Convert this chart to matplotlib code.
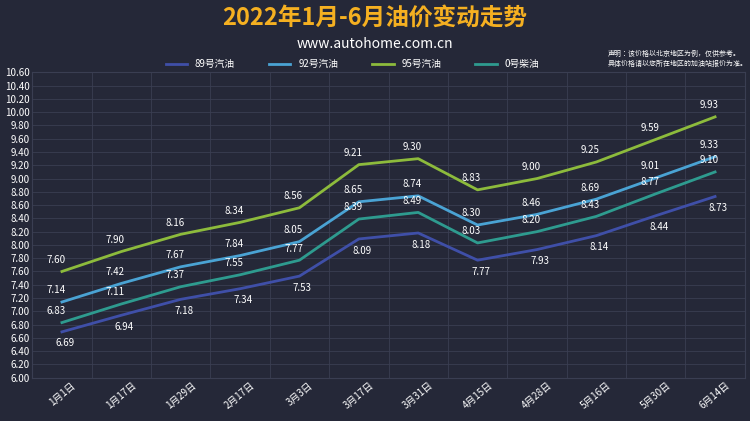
import matplotlib
matplotlib.use("Agg")
import matplotlib.pyplot as plt
from matplotlib import font_manager as fm

fam = "Noto Sans CJK SC"
for f in fm.findSystemFonts():
    if "CJK" in f or "cjk" in f:
        try:
            fm.fontManager.addfont(f)
        except Exception:
            pass
names_avail = {f.name for f in fm.fontManager.ttflist}
cands = [n for n in names_avail if "CJK" in n]
if fam not in names_avail and cands:
    fam = sorted(cands)[0]
plt.rcParams["font.family"] = "sans-serif"
plt.rcParams["font.sans-serif"] = [fam, "DejaVu Sans"]

dates = ["1月1日","1月17日","1月29日","2月17日","3月3日","3月17日","3月31日","4月15日","4月28日","5月16日","5月30日","6月14日"]
p89 = [6.69, 6.94, 7.18, 7.34, 7.53, 8.09, 8.18, 7.77, 7.93, 8.14, 8.44, 8.73]
p92 = [7.14, 7.42, 7.67, 7.84, 8.05, 8.65, 8.74, 8.30, 8.46, 8.69, 9.01, 9.33]
p95 = [7.60, 7.90, 8.16, 8.34, 8.56, 9.21, 9.30, 8.83, 9.00, 9.25, 9.59, 9.93]
p0 = [6.83, 7.11, 7.37, 7.55, 7.77, 8.39, 8.49, 8.03, 8.20, 8.43, 8.77, 9.10]
names = ["89号汽油", "92号汽油", "95号汽油", "0号柴油"]
yticks = [round(6.0 + 0.2 * i, 2) for i in range(24)]

bg = "#252838"
fig = plt.figure(figsize=(7.5, 4.21), dpi=100, facecolor=bg)
ax = fig.add_axes([0.043, 0.103, 0.95, 0.725], facecolor=bg)
x = list(range(len(dates)))
series = [(p89, "#3f4fa8"), (p92, "#4aa3d4"), (p95, "#8dbb3c"), (p0, "#2e9b8f")]
for (vals, c), n in zip(series, names):
    ax.plot(x, vals, color=c, lw=2, label=n)
for i in x:
    ax.text(i - 0.1, p95[i] + 0.1, f"{p95[i]:.2f}", color="white", fontsize=7, ha="center", va="bottom")
    ax.text(i - 0.1, p92[i] + 0.1, f"{p92[i]:.2f}", color="white", fontsize=7, ha="center", va="bottom")
    ax.text(i - 0.1, p0[i] + 0.1, f"{p0[i]:.2f}", color="white", fontsize=7, ha="center", va="bottom")
    ax.text(i + 0.05, p89[i] - 0.1, f"{p89[i]:.2f}", color="white", fontsize=7, ha="center", va="top")
ax.set_xlim(-0.5, len(dates) - 0.5)
ax.set_ylim(6.0, 10.6)
ax.set_yticks(yticks)
ax.set_yticklabels([f"{v:.2f}" for v in yticks], color="white", fontsize=7)
ax.set_xticks(x)
ax.set_xticklabels(dates, rotation=40, color="white", fontsize=7)
ax.set_xticks([i + 0.5 for i in x[:-1]], minor=True)
ax.grid(axis="y", color="#3a3e52", lw=0.6)
ax.grid(axis="x", which="minor", color="#3a3e52", lw=0.6)
ax.tick_params(length=0, which="both", pad=2)
for s in ax.spines.values():
    s.set_color("#3a3e52")
fig.text(0.5, 0.955, "2022年1月-6月油价变动走势", color="#f5b021", fontsize=17, fontweight="bold", ha="center", va="center")
fig.text(0.5, 0.895, "www.autohome.com.cn", color="white", fontsize=10, ha="center", va="center")
fig.legend(loc="center", bbox_to_anchor=(0.47, 0.847), ncol=4, frameon=False, fontsize=7,
           labelcolor="white", handlelength=2.2, columnspacing=3.5)
fig.text(0.81, 0.86, "声明：该价格以北京地区为例，仅供参考。\n具体价格请以您所在地区的加油站报价为准。",
         color="white", fontsize=5, ha="left", va="center", linespacing=1.3)
fig.savefig("out.png", dpi=100, facecolor=bg)
